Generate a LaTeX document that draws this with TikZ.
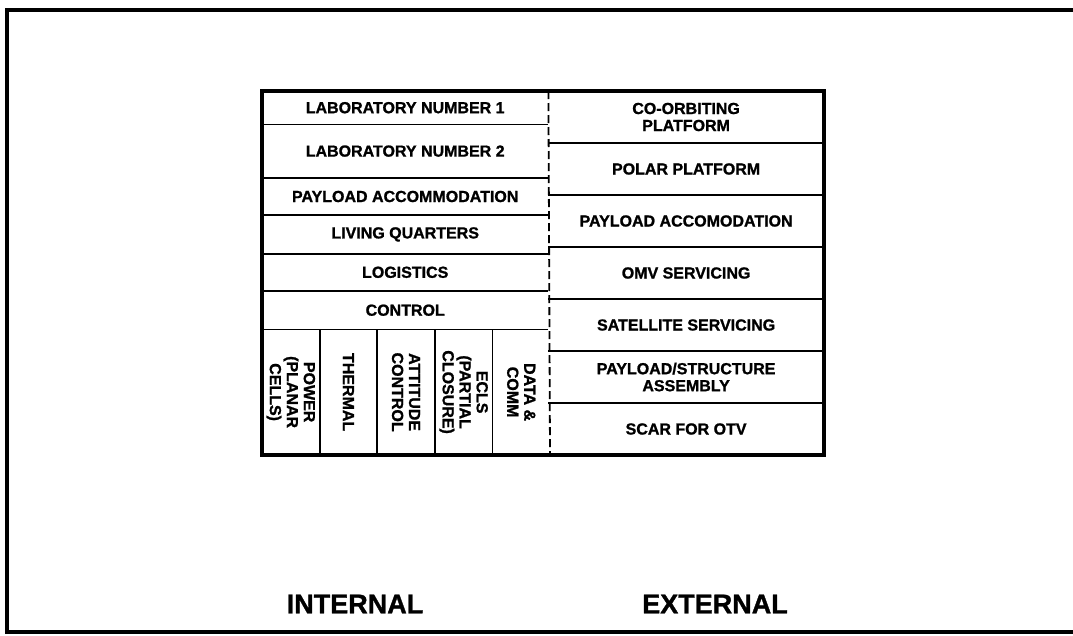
\documentclass[tikz,border=0pt]{standalone}
\usepackage{fontspec}
\setmainfont{Liberation Sans}[BoldFeatures={FakeBold=1.2}]
\usepackage{tikz}
\usetikzlibrary{positioning}

\begin{document}
\begin{tikzpicture}[x=1pt, y=-1pt,
    cell/.style={inner sep=0pt, align=center, font=\bfseries\fontsize{16}{17}\selectfont},
    incell/.style={cell, minimum width=286pt},
    excell/.style={cell, minimum width=275pt, minimum height=51.6pt},
    sub/.style={cell, minimum width=57.2pt, minimum height=125pt},
    rot/.style={cell, rotate=-90},
    rule/.style={line width=1.8pt},
    side/.style={font=\bfseries\fontsize{27}{30}\selectfont}]
    \useasboundingbox (0,0) rectangle (1073,635);
    \draw[line width=3.5pt] (1073,10) -- (7,10) -- (7,632) -- (1073,632);

    % internal column
    \node (lab1) [incell, minimum height=33pt, anchor=north west] at (262,91) {LABORATORY NUMBER 1};
    \node (lab2) [incell, minimum height=53pt, below=0pt of lab1] {LABORATORY NUMBER 2};
    \node (payin) [incell, minimum height=37pt, below=0pt of lab2] {PAYLOAD ACCOMMODATION};
    \node (living) [incell, minimum height=38pt, below=0pt of payin] {LIVING QUARTERS};
    \node (logi) [incell, minimum height=37pt, below=0pt of living] {LOGISTICS};
    \node (ctrl) [incell, minimum height=38pt, below=0pt of logi] {CONTROL};
    \node (power) [sub, anchor=north west] at (ctrl.south west) {};
    \node (thermal) [sub, right=0pt of power] {};
    \node (att) [sub, right=0pt of thermal] {};
    \node (ecls) [sub, right=0pt of att] {};
    \node (data) [sub, right=0pt of ecls] {};
    \node [rot] at (power) {POWER\\(PLANAR\\CELLS)};
    \node [rot] at (thermal) {THERMAL};
    \node [rot] at (att) {ATTITUDE\\CONTROL};
    \node [rot] at (ecls) {ECLS\\(PARTIAL\\CLOSURE)};
    \node [rot] at (data) {DATA \&\\COMM};

    % external column
    \node (coorb) [excell, anchor=north west] at (lab1.north east) {CO-ORBITING\\PLATFORM};
    \node (polar) [excell, below=0pt of coorb] {POLAR PLATFORM};
    \node (payex) [excell, below=0pt of polar] {PAYLOAD ACCOMODATION};
    \node (omv) [excell, below=0pt of payex] {OMV SERVICING};
    \node (sat) [excell, below=0pt of omv] {SATELLITE SERVICING};
    \node (pss) [excell, below=0pt of sat] {PAYLOAD/STRUCTURE\\ASSEMBLY};
    \node (scar) [excell, below=0pt of pss] {SCAR FOR OTV};

    \foreach \n in {lab1, lab2, payin, living, logi, ctrl}
        \draw[rule] (\n.south west) -- (\n.south east);
    \foreach \n in {power, thermal, att, ecls}
        \draw[rule] (\n.north east) -- (\n.south east);
    \foreach \n in {coorb, polar, payex, omv, sat, pss}
        \draw[rule] (\n.south west) -- (\n.south east);
    \draw[rule, dash pattern=on 8pt off 4pt] (lab1.north east) -- (data.south east);
    \draw[line width=3.5pt] (lab1.north west) rectangle (scar.south east);

    \node (inner) [side] at (355,604) {INTERNAL};
    \node (outer) [side] at (715,604) {EXTERNAL};
\end{tikzpicture}
\end{document}
